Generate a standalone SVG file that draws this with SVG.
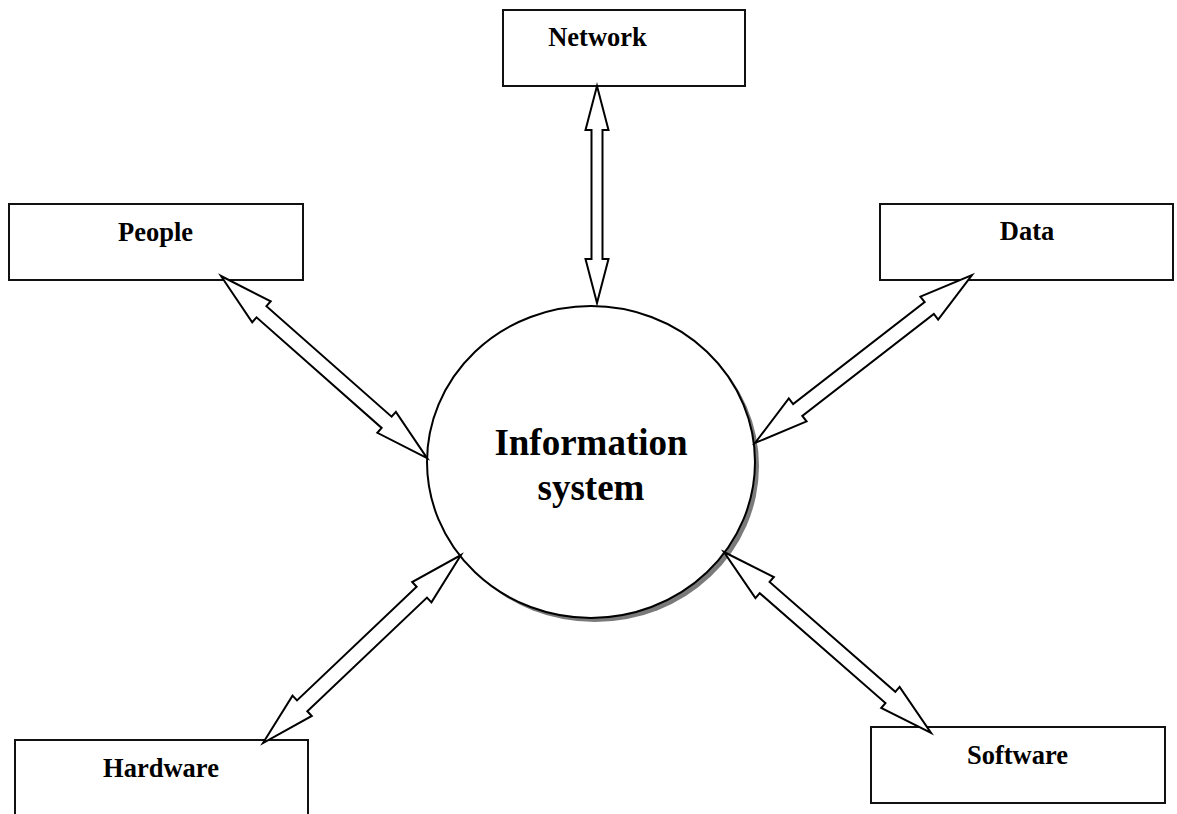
<svg xmlns="http://www.w3.org/2000/svg" width="1177" height="814" viewBox="0 0 1177 814">
  <style>
    .box { fill: #ffffff; stroke: #111111; stroke-width: 2; }
    .lbl { font-family: "Liberation Serif", "Times New Roman", serif; font-weight: bold; font-size: 26.5px; fill: #000000; text-anchor: middle; }
    .big { font-family: "Liberation Serif", "Times New Roman", serif; font-weight: bold; font-size: 37px; fill: #000000; text-anchor: middle; }
    .arrow { fill: #ffffff; stroke: #000000; stroke-width: 2; stroke-linejoin: miter; }
  </style>
  <rect width="1177" height="814" fill="#ffffff"/>

  <!-- central system node with drop shadow -->
  <g id="information-system">
    <ellipse cx="595" cy="466" rx="164" ry="156" fill="#7a7a7a"/>
    <ellipse cx="591" cy="462" rx="164" ry="156" fill="#ffffff" stroke="#000000" stroke-width="2"/>
    <text class="big" x="591" y="455">Information</text>
    <text class="big" x="591" y="500">system</text>
  </g>

  <g id="network">
    <rect class="box" x="503" y="10" width="242" height="76"/>
    <text class="lbl" x="597.5" y="46">Network</text>
  </g>

  <g id="people">
    <rect class="box" x="9" y="204" width="294" height="76"/>
    <text class="lbl" x="155.5" y="240.5">People</text>
  </g>

  <g id="data">
    <rect class="box" x="880" y="204" width="293" height="76"/>
    <text class="lbl" x="1027" y="240">Data</text>
  </g>

  <g id="hardware">
    <rect class="box" x="15" y="740" width="293" height="90"/>
    <text class="lbl" x="161" y="777">Hardware</text>
  </g>

  <g id="software">
    <rect class="box" x="871" y="727" width="294" height="76"/>
    <text class="lbl" x="1017.5" y="764">Software</text>
  </g>

  <!-- double-headed block arrows, each drawn along its own x axis -->
  <g id="connectors">
    <polygon class="arrow" transform="translate(597,86) rotate(90)"
      points="0,0 44,-11.5 44,-5.5 173,-5.5 173,-11.5 217,0 173,11.5 173,5.5 44,5.5 44,11.5"/>
    <polygon class="arrow" transform="translate(221,276) rotate(41.46)"
      points="0,0 54,-14 54,-7.5 221,-7.5 221,-14 275,0 221,14 221,7.5 54,7.5 54,14"/>
    <polygon class="arrow" transform="translate(755,443) rotate(-37.75)"
      points="0,0 54,-14.5 54,-7.5 220.4,-7.5 220.4,-14.5 274.4,0 220.4,14.5 220.4,7.5 54,7.5 54,14.5"/>
    <polygon class="arrow" transform="translate(263,743) rotate(-43.52)"
      points="0,0 54,-14 54,-7.5 219,-7.5 219,-14 273,0 219,14 219,7.5 54,7.5 54,14"/>
    <polygon class="arrow" transform="translate(724,552) rotate(41.16)"
      points="0,0 54,-14 54,-7.5 221,-7.5 221,-14 275,0 221,14 221,7.5 54,7.5 54,14"/>
  </g>
</svg>
